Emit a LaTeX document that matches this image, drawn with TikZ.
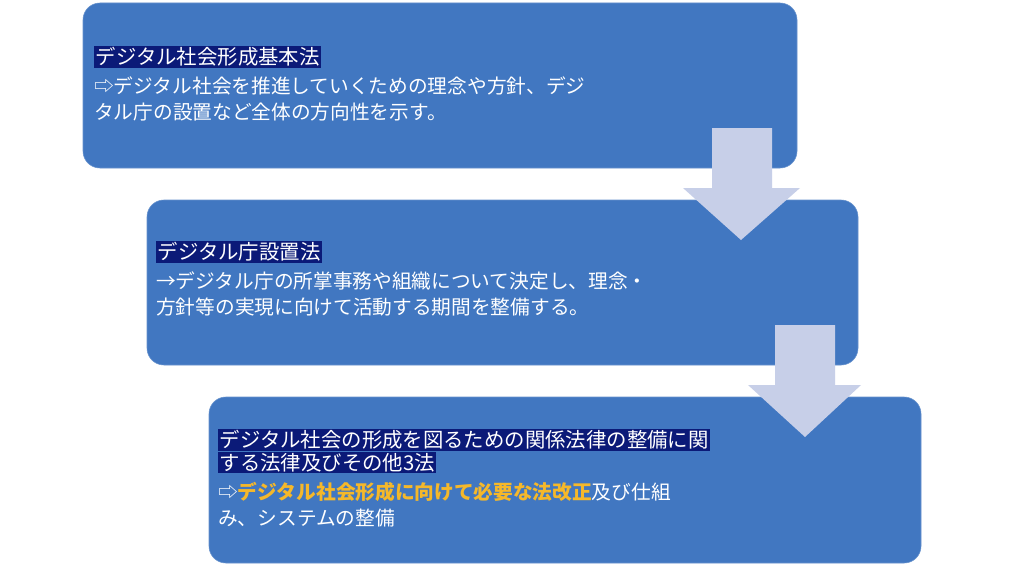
\documentclass[tikz,border=0pt]{standalone}
\usepackage{fontspec}
\setmainfont{Noto Sans CJK JP}
\usepackage{xcolor}
\usetikzlibrary{positioning}
\definecolor{boxblue}{HTML}{4177C1}
\definecolor{titlenavy}{HTML}{0B1A78}
\definecolor{arrowlav}{HTML}{C7CFE8}
\definecolor{hiyellow}{HTML}{F5B82A}
\tikzset{
  lawbox/.style={fill=boxblue, draw=boxblue!80!white, rounded corners=12pt},
  lawtitle/.style={anchor=west, fill=titlenavy, text=white, inner sep=1pt,
    font=\fontsize{14.5}{18.5}\selectfont},
  lawbody/.style={anchor=north west, text=white, inner sep=0pt, align=left,
    font=\fontsize{14}{18.5}\selectfont},
  downarrow/.style={fill=arrowlav, draw=none}
}
\begin{document}
\begin{tikzpicture}[x=0.025cm, y=-0.025cm]
    \useasboundingbox (0,0) rectangle (1024,578);
    \fill[white] (0,0) rectangle (1024,578);
    % boxes
    \draw[lawbox] (83,3) rectangle (797,168);
    \draw[lawbox] (147,200) rectangle (858,365);
    \draw[lawbox] (209,397) rectangle (921,563);
    % arrows
    \fill[downarrow] (712,128) -- (772,128) -- (772,188) -- (800,188) -- (741,240)
        -- (683,188) -- (712,188) -- cycle;
    \fill[downarrow] (775,325) -- (835,325) -- (835,385) -- (861,385) -- (805,437)
        -- (748,385) -- (775,385) -- cycle;
    % first law
    \node[lawtitle] (basic) at (94,57) {デジタル社会形成基本法};
    \node[lawbody, below=6pt of basic.south west, anchor=north west] (basicbody)
        {⇨デジタル社会を推進していくための理念や方針、デジ\\タル庁の設置など全体の方向性を示す。};
    % second law
    \node[lawtitle] (agency) at (156,252) {デジタル庁設置法};
    \node[lawbody, below=6pt of agency.south west, anchor=north west] (agencybody)
        {→デジタル庁の所掌事務や組織について決定し、理念・\\方針等の実現に向けて活動する期間を整備する。};
    % third law
    \node[lawtitle] (relatedA) at (218,440) {デジタル社会の形成を図るための関係法律の整備に関};
    \node[lawtitle, below=0pt of relatedA.south west, anchor=north west] (relatedB)
        {する法律及びその他3法};
    \node[lawbody, below=6pt of relatedB.south west, anchor=north west] (relatedbody)
        {⇨\textcolor{hiyellow}{\bfseries デジタル社会形成に向けて必要な法改正}及び仕組\\み、システムの整備};
\end{tikzpicture}
\end{document}
